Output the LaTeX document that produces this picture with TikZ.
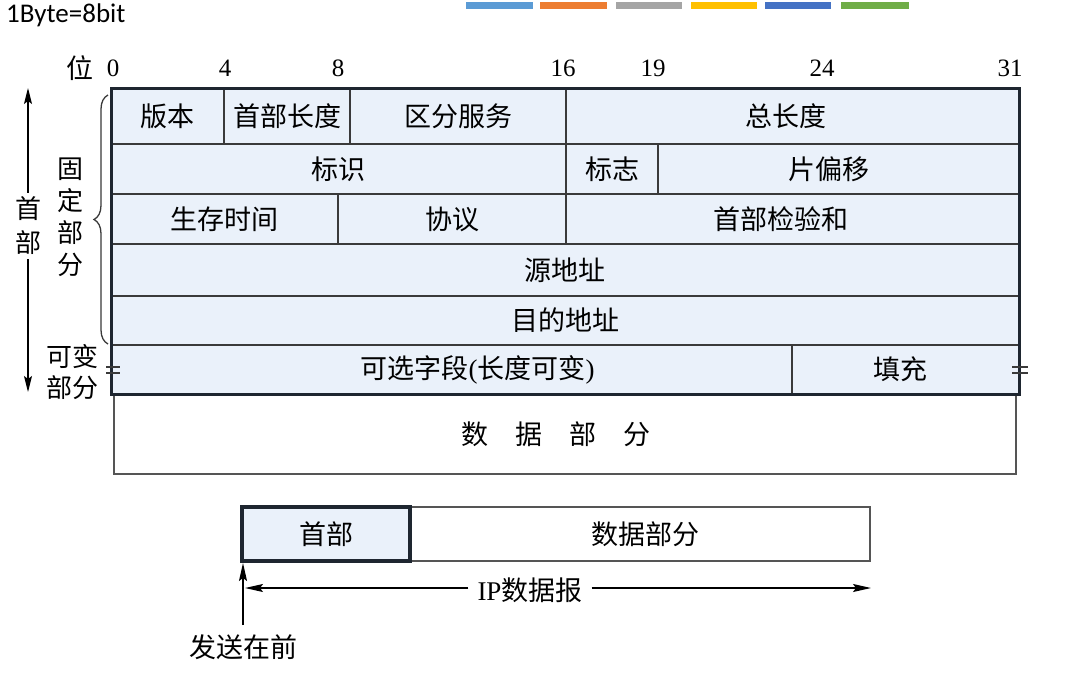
\documentclass[tikz,border=0pt]{standalone}
\usepackage{fontspec}
\setmainfont{Liberation Serif}
\newfontfamily\zhfont{Noto Sans CJK SC}
\newfontfamily\cbfont{Carlito}
\usetikzlibrary{arrows.meta,decorations.pathreplacing}
\definecolor{cellfill}{RGB}{234,241,250}
\definecolor{gridline}{RGB}{58,58,58}
\definecolor{outerline}{RGB}{30,38,48}
\definecolor{thinline}{RGB}{85,85,85}
\definecolor{barA}{RGB}{91,155,213}
\definecolor{barB}{RGB}{237,125,49}
\definecolor{barC}{RGB}{165,165,165}
\definecolor{barD}{RGB}{255,192,0}
\definecolor{barE}{RGB}{68,114,196}
\definecolor{barF}{RGB}{112,173,71}
\newcommand\zh{\zhfont\fontsize{27}{32}\selectfont}
\newcommand\gap[1]{\rule{#1}{0pt}}
\newcommand\mkcell[7]{% style, name, x1, x2, y1, y2, text
  \pgfmathsetmacro\cw{#4-#3}\pgfmathsetmacro\ch{#6-#5}%
  \node[#1, minimum width=\cw pt, minimum height=\ch pt] (#2) at ({(#3+#4)/2},{(#5+#6)/2}) {#7};}
\begin{document}
\begin{tikzpicture}[x=1pt,y=-1pt,
  cell/.style={draw=gridline, line width=1.2pt, fill=cellfill, inner sep=0pt, outer sep=0pt, font=\zh},
  plainbox/.style={draw=thinline, line width=1.2pt, fill=white, inner sep=0pt, outer sep=0pt, font=\zh},
  headbox/.style={draw=outerline, line width=3.2pt, fill=cellfill, inner sep=0pt, outer sep=0pt, font=\zh},
  outer/.style={draw=outerline, line width=3pt},
  bitnum/.style={font=\fontsize{25}{28}\selectfont, inner sep=0pt},
  zhlabel/.style={font=\zh, inner sep=0pt, align=center},
  eqmark/.style={draw=gridline, line width=1.4pt},
  arr/.style={draw=black, line width=1.3pt, -{Stealth[length=18pt,width=8pt,inset=3pt]}}
]
\useasboundingbox[fill=white] (0,0) rectangle (1082,675);

% colour bars
\fill[barA] (466,2) rectangle (533,9);
\fill[barB] (540,2) rectangle (607,9);
\fill[barC] (616,2) rectangle (682,9);
\fill[barD] (691,2) rectangle (757,9);
\fill[barE] (765,2) rectangle (831,9);
\fill[barF] (841,2) rectangle (909,9);

% unit
\node[anchor=west, inner sep=0pt, font=\cbfont\fontsize{27}{30}\selectfont] (unit) at (6,15) {1Byte=8bit};

% bit positions
\node[zhlabel] (wei) at (80,68) {位};
\node[bitnum] (b0) at (113,68) {0};
\node[bitnum] (b4) at (225,68) {4};
\node[bitnum] (b8) at (338,68) {8};
\node[bitnum] (b16) at (563,68) {16};
\node[bitnum] (b19) at (653,68) {19};
\node[bitnum] (b24) at (822,68) {24};
\node[bitnum] (b31) at (1010,68) {31};

% data part
\mkcell{plainbox}{data}{114}{1016}{394}{474}{数\gap{27pt}据\gap{27pt}部\gap{27pt}分\gap{18pt}}

% header cells
\mkcell{cell}{ver}{111}{224}{88}{144}{版本}
\mkcell{cell}{hlen}{224}{350}{88}{144}{首部长度}
\mkcell{cell}{ds}{350}{566}{88}{144}{区分服务}
\mkcell{cell}{tlen}{566}{1019}{88}{144}{总长度\gap{14pt}}
\mkcell{cell}{ident}{111}{566}{144}{194}{标识}
\mkcell{cell}{flag}{566}{658}{144}{194}{标志}
\mkcell{cell}{foff}{658}{1019}{144}{194}{片偏移\gap{20pt}}
\mkcell{cell}{ttl}{111}{338}{194}{244}{生存时间}
\mkcell{cell}{proto}{338}{566}{194}{244}{协议}
\mkcell{cell}{cksum}{566}{1019}{194}{244}{首部检验和\gap{24pt}}
\mkcell{cell}{src}{111}{1019}{244}{296}{源地址}
\mkcell{cell}{dst}{111}{1019}{296}{345}{目的地址}
\mkcell{cell}{opt}{111}{792}{345}{394}{\gap{52pt}可选字段{\normalfont(}长度可变{\normalfont)}}
\mkcell{cell}{pad}{792}{1019}{345}{394}{填充\gap{10pt}}
\draw[outer] (ver.north west) rectangle (pad.south east);

% = marks
\draw[eqmark] (106,367) -- (120,367);
\draw[eqmark] (106,373) -- (120,373);
\draw[eqmark] (1012,367) -- (1028,367);
\draw[eqmark] (1012,373) -- (1028,373);

% left labels
\node[zhlabel, font=\zhfont\fontsize{26}{34}\selectfont, inner ysep=4pt] (shoubu) at (28,226) {首\\部};
\coordinate (htop) at (28,88);
\coordinate (hbot) at (28,392);
\draw[arr, -{Stealth[length=16pt,width=8pt,inset=3pt]}] (shoubu.north) -- (htop);
\draw[arr, -{Stealth[length=16pt,width=8pt,inset=3pt]}] (shoubu.south) -- (hbot);
\draw[draw=gridline, line width=1.3pt, decorate, decoration={brace, amplitude=14pt}] (108,344) -- (108,95);
\node[zhlabel, font=\zhfont\fontsize{26}{32}\selectfont] (guding) at (70,217) {固\\定\\部\\分};
\node[zhlabel, font=\zhfont\fontsize{26}{31}\selectfont] (kebian) at (72,372) {可变\\部分};

% bottom: IP datagram
\mkcell{plainbox}{dpart}{410}{870}{507}{561}{\gap{10pt}数据部分}
\mkcell{headbox}{hpart}{242}{410}{507}{561}{首部}
\node[inner xsep=9pt, inner ysep=2pt, fill=white, font=\zh] (iplabel) at (530,590) {{\normalfont\fontsize{27}{32}\selectfont IP}数据报};
\coordinate (ipL) at (245,588);
\coordinate (ipR) at (871,588);
\draw[arr] (iplabel.west |- ipL) -- (ipL);
\draw[arr] (iplabel.east |- ipR) -- (ipR);
\node[zhlabel] (fasong) at (243,647) {发送在前};
\coordinate (sendtip) at (243,563);
\draw[arr] (243,625) -- (sendtip);
\end{tikzpicture}
\end{document}
